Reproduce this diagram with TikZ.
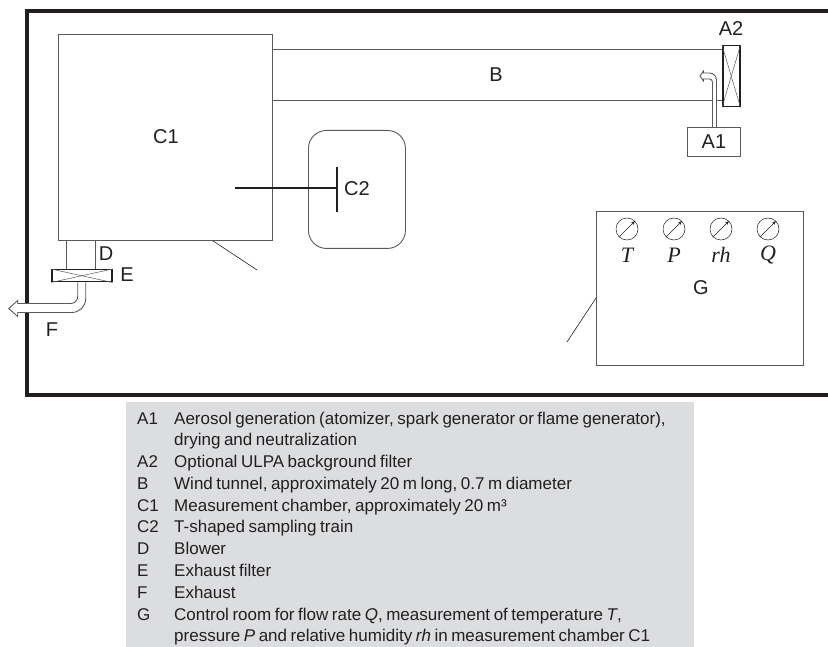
\documentclass[tikz,border=0pt]{standalone}
\usepackage{fontspec}
\usepackage{xcolor}
\setmainfont[WordSpace=0.75]{Liberation Sans}
\newfontfamily\symfont{Liberation Serif}
\usetikzlibrary{arrows.meta,calc,positioning}
\definecolor{ink}{HTML}{231F20}
\definecolor{wire}{HTML}{58595B}
\definecolor{softgray}{HTML}{DCDDDF}
\tikzset{
  font=\fontsize{20}{22}\selectfont,
  tag/.style={text=ink, inner sep=0pt},
  box/.style={draw=wire, line width=.9pt, fill=white, anchor=north west, inner sep=0pt},
  filterbox/.style={box, draw=ink, line width=1.5pt},
  wall/.style={draw=ink, line width=3.2pt},
  duct/.style={draw=wire, line width=.9pt},
  pipe/.style={draw=wire, line width=.9pt, fill=white},
  lead/.style={draw=ink, line width=.6pt},
  cross/.style={draw=wire, line width=.5pt},
  sampler/.style={draw=ink, line width=2.6pt},
  gauge/.style={circle, draw=ink, line width=.5pt, minimum size=22pt, inner sep=0pt},
  gaugeneedle/.style={draw=ink, line width=.5pt, -{Stealth[length=4pt,width=3pt]}},
  symbol/.style={text=ink, inner sep=0pt, font=\fontsize{22}{24}\symfont\itshape},
  legendkey/.style={text=ink, inner sep=0pt, anchor=base west, font=\fontsize{17}{18}\selectfont},
  legendtext/.style={legendkey}
}
\begin{document}
\begin{tikzpicture}[x=1pt,y=-1pt]
  \useasboundingbox (0,0) rectangle (828,647);
  \draw[wall] (828,11) -- (27,11) -- (27,395) -- (828,395);

  \node[box, minimum width=214pt, minimum height=206pt] (chamber) at (58,34) {};
  \node[tag] (chamberlabel) at (166,137) {C1};
  \node[filterbox, minimum width=17pt, minimum height=61pt] (bgfilter) at (722,45) {};
  \node[tag] (bgfilterlabel) at (731,29) {A2};
  \coordinate (tunneltop) at (272,49);
  \coordinate (tunnelbottom) at (272,100);
  \draw[duct] (tunneltop) -- (tunneltop -| bgfilter.west);
  \draw[duct] (tunnelbottom) -- (tunnelbottom -| bgfilter.west);
  \node[tag] (tunnellabel) at (496,75) {B};
  \draw[cross] (bgfilter.north west) -- (bgfilter.south east);
  \draw[cross] (bgfilter.north east) -- (bgfilter.south west);

  \node[box, minimum width=53pt, minimum height=29pt] (aerosol) at (687,127) {\textcolor{ink}{A1}};
  \draw[pipe] ([xshift=-1.5pt]aerosol.north) -- ++(0,-45) arc[start angle=0, end angle=-90, radius=3]
    -- ++(-6,0) -- ++(0,2) -- ++(-3.5,-5) -- ++(3.5,-5) -- ++(0,2) -- ++(6,0)
    arc[start angle=-90, end angle=0, radius=7] -- ([xshift=2.5pt]aerosol.north);

  \node[box, rounded corners=18pt, minimum width=97pt, minimum height=118pt] (sampleroom) at (308,130) {};
  \coordinate (trainstart) at (235,188);
  \coordinate (trainhead) at (337,188);
  \draw[sampler] (trainstart) -- (trainhead);
  \draw[sampler] ($(trainhead)+(0,-21)$) -- ($(trainhead)+(0,24)$);
  \node[tag] (trainlabel) at (357,189) {C2};

  \node[box, minimum width=29.5pt, minimum height=29pt] (blower) at (65.5,240) {};
  \node[tag] (blowerlabel) at (106,254) {D};
  \node[filterbox, minimum width=60pt, minimum height=12pt] (exfilter) at (51,269) {};
  \node[tag] (exfilterlabel) at (127,275) {E};
  \draw[cross] (exfilter.north west) -- (exfilter.south east);
  \draw[cross] (exfilter.north east) -- (exfilter.south west);
  \draw[pipe] ([xshift=-4pt]exfilter.south) -- ++(0,14) arc[start angle=0, end angle=90, radius=7]
    -- ++(-53,0) -- ++(0,-3) -- ++(-9,8) -- ++(9,8) -- ++(0,-4) -- ++(54,0)
    arc[start angle=90, end angle=0, radius=14] -- ([xshift=4pt]exfilter.south);
  \node[tag] (exhaustlabel) at (52,330) {F};
  \coordinate (chamberlead) at (257,270);
  \draw[lead] ($(chamber.south west)+(155,0)$) -- (chamberlead);

  \node[box, minimum width=207pt, minimum height=154pt] (control) at (596,211) {};
  \node[tag] (controllabel) at (701,288) {G};
  \coordinate (controllead) at (567,342);
  \draw[lead] ($(control.north west)+(0,87)$) -- (controllead);
  \foreach \gaugename/\gx/\gsym in {T/627/T,P/674/P,rh/721/rh,Q/768/Q} {
    \node[gauge] (gauge\gaugename) at (\gx,229) {};
    \draw[gaugeneedle] (gauge\gaugename.225) -- (gauge\gaugename.45);
    \node[symbol] (sym\gaugename) at (\gx,255) {\gsym};
  }

  \node[fill=softgray, anchor=north west, inner sep=0pt, minimum width=568pt, minimum height=245pt] (legend) at (126,402) {};
  \foreach \n/\key/\ly/\txt in {
    1/A1/424/{Aerosol generation (atomizer, spark generator or flame generator),},
    2//445/{drying and neutralization},
    3/A2/467/{Optional ULPA background filter},
    4/B/489/{Wind tunnel, approximately 20 m long, 0.7 m diameter},
    5/C1/511/{Measurement chamber, approximately 20 m³},
    6/C2/532/{T-shaped sampling train},
    7/D/554/{Blower},
    8/E/576/{Exhaust filter},
    9/F/598/{Exhaust},
    10/G/620/{Control room for flow rate \emph{Q}, measurement of temperature \emph{T},},
    11//641/{pressure \emph{P} and relative humidity \emph{rh} in measurement chamber C1}
  } {
    \node[legendkey] (key\n) at (137,\ly) {\key};
    \node[legendtext] (entry\n) at (174,\ly) {\txt};
  }
\end{tikzpicture}
\end{document}
